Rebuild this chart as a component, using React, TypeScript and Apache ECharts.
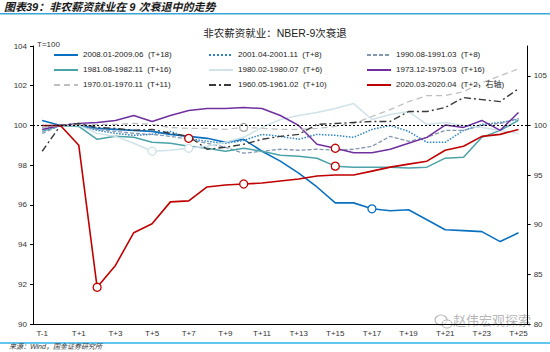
import React, { useEffect, useRef } from "react";
import * as echarts from "echarts";

const categories = [
  "T-1", "T", "T+1", "T+2", "T+3", "T+4", "T+5", "T+6", "T+7", "T+8", "T+9",
  "T+10", "T+11", "T+12", "T+13", "T+14", "T+15", "T+16", "T+17", "T+18",
  "T+19", "T+20", "T+21", "T+22", "T+23", "T+24", "T+25",
];

const s2008 = [100.25, 100, 100, 99.85, 99.8, 99.75, 99.7, 99.55, 99.45, 99.35, 99.15, 99.3, 98.7, 98.2, 97.6, 96.9, 96.1, 96.1, 95.8, 95.7, 95.75, 95.25, 94.75, 94.7, 94.65, 94.15, 94.6];
const s2001 = [99.9, 100, 100, 99.75, 99.6, 99.5, 99.55, 99.7, 99.35, 99.2, 99.1, 99.25, 99.55, 99.45, 99.3, 99.55, 99.5, 99.4, 99.8, 100.0, 99.7, 99.15, 99.15, 99.75, 100.05, 100.15, 100.3];
const s1990 = [99.6, 100, 99.95, 99.8, 99.7, 99.6, 99.55, 99.45, 99.3, 99.1, 98.9, 98.6, 98.7, 98.8, 98.75, 98.8, 98.75, 98.8, 98.95, 99.45, 99.2, 99.4, 99.75, 99.75, 100.0, 100.1, 100.35];
const s1981 = [99.7, 100, 99.95, 99.3, 99.45, 99.4, 99.15, 99.1, 98.95, 98.85, 98.7, 98.85, 98.7, 98.5, 98.45, 98.35, 97.95, 97.9, 97.9, 97.9, 97.85, 97.9, 98.35, 98.4, 99.4, 99.75, 100.25];
const s1980 = [99.8, 100, 100, 99.6, 99.45, 99.1, 98.7, 98.75, 98.85, 98.95, 99.15, 99.4, 99.9, 100.3, 100.5, 100.65, 100.85, 101.1, 100.3, 100.55, 100.7, 100.05, 100.15, 100.0, 99.9, 99.75, 99.6];
const s1973 = [99.8, 100, 100.1, 100.15, 100.25, 100.5, 100.2, 100.5, 100.75, 100.85, 100.85, 100.9, 100.85, 100.5, 100.0, 99.05, 98.85, 98.62, 98.62, 98.8, 99.1, 99.4, 100.02, 99.9, 100.25, 99.75, 100.65];
const s1970 = [99.9, 100, 100.05, 100.05, 100.05, 100.1, 100.05, 99.9, 99.85, 99.85, 99.8, 99.9, 99.85, 99.8, 99.8, 99.85, 99.95, 100.1, 100.45, 100.8, 101.2, 101.5, 101.5, 101.7, 102.15, 102.5, 102.85];
const s1960 = [98.7, 100, 100.1, 99.9, 99.85, 99.75, 99.8, 99.6, 99.45, 98.8, 98.9, 99.05, 99.3, 99.45, 99.55, 100.05, 100.1, 100.15, 100.2, 100.2, 100.7, 100.7, 100.9, 101.4, 101.3, 101.2, 101.85];
const s2020 = [100, 100, 98.0, 83.7, 85.9, 89.2, 90.1, 92.3, 92.4, 93.8, 94.0, 94.1, 94.2, 94.4, 94.6, 94.9, 95.0, 95.0, 95.4, 95.8, 96.1, 96.4, 97.5, 97.9, 98.9, 99.1, 99.6];

const names = [
  "2008.01-2009.06  (T+18)",
  "2001.04-2001.11  (T+8)",
  "1990.08-1991.03  (T+8)",
  "1981.08-1982.11  (T+16)",
  "1980.02-1980.07  (T+6)",
  "1973.12-1975.03  (T+16)",
  "1970.01-1970.11  (T+11)",
  "1960.05-1961.02  (T+10)",
  "2020.03-2020.04  (T+2，右轴)",
];

const FONT = "'Liberation Sans', Arial, 'Noto Sans CJK SC', sans-serif";

export default function App() {
  const ref = useRef<HTMLDivElement>(null);
  useEffect(() => {
    if (!ref.current) return;
    const chart = echarts.init(ref.current, null, { renderer: "svg" });

    const mk = (
      name: string,
      values: number[],
      color: string,
      width: number,
      type: any,
      circles: number[],
      circleColor: string,
      yAxisIndex = 0,
      extra: any = {}
    ) => ({
      name,
      type: "line",
      yAxisIndex,
      symbol: "none",
      showSymbol: true,
      showAllSymbol: true,
      color,
      lineStyle: { color, width, type },
      data: values.map((v, i) =>
        circles.includes(i)
          ? {
              value: v,
              symbol: "circle",
              symbolSize: 8,
              itemStyle: { color: "#fff", borderColor: circleColor, borderWidth: 1.3 },
            }
          : v
      ),
      ...extra,
    });

    const series: any[] = [
      mk(names[0], s2008, "#0a70c0", 1.6, "solid", [18], "#0a70c0", 0, {
        markLine: {
          silent: true,
          symbol: ["none", "none"],
          label: { show: false },
          lineStyle: { color: "#000", type: [2, 2], width: 1 },
          data: [{ yAxis: 100 }],
        },
      }),
      mk(names[1], s2001, "#2e84c4", 1.5, "dotted", [8], "#c00000"),
      mk(names[2], s1990, "#8497b0", 1.3, [4, 2], [], "#8497b0"),
      mk(names[3], s1981, "#4ba3a8", 1.5, "solid", [16], "#c00000"),
      mk(names[4], s1980, "#cfe3e8", 1.5, "solid", [6, 8], "#cfe3e8"),
      mk(names[5], s1973, "#7030a0", 1.5, "solid", [16], "#c00000"),
      mk(names[6], s1970, "#bfbfbf", 1.3, [6, 4], [11], "#aaaaaa"),
      mk(names[7], s1960, "#3a3a3a", 1.4, [7, 3, 2, 3], [], "#3a3a3a"),
      mk(names[8], s2020, "#c00000", 1.6, "solid", [3, 11], "#c00000", 1),
    ];

    const legendBase = {
      orient: "vertical",
      top: 46,
      itemWidth: 24,
      itemHeight: 8,
      itemGap: 7,
      itemStyle: { opacity: 0, borderWidth: 0 },
      textStyle: { fontSize: 8, color: "#222", fontFamily: FONT },
      selectedMode: false,
    };

    chart.setOption({
      animation: false,
      backgroundColor: "#fff",
      textStyle: { fontFamily: FONT },
      title: {
        text: "非农薪资就业：NBER-9次衰退",
        left: "center",
        top: 23,
        textStyle: { fontSize: 10.5, fontWeight: "normal", color: "#222", fontFamily: FONT },
      },
      legend: [
        { ...legendBase, left: 48, data: [names[0], names[3], names[6]] },
        { ...legendBase, left: 203, data: [names[1], names[4], names[7]] },
        { ...legendBase, left: 361, data: [names[2], names[5], names[8]] },
      ],
      grid: { left: 33, right: 22, top: 46, bottom: 28 },
      xAxis: {
        type: "category",
        data: categories,
        boundaryGap: true,
        axisLine: { onZero: false, lineStyle: { color: "#000", width: 1 } },
        axisTick: { length: 4, lineStyle: { color: "#000" } },
        axisLabel: { interval: 1, fontSize: 8, color: "#333", margin: 5, fontFamily: FONT },
        splitLine: { show: false },
      },
      yAxis: [
        {
          type: "value",
          min: 90,
          max: 104,
          interval: 2,
          axisLine: { show: true, lineStyle: { color: "#000", width: 1 } },
          axisTick: { show: true, length: 3, lineStyle: { color: "#000" } },
          axisLabel: { fontSize: 8, color: "#333", margin: 6, fontFamily: FONT },
          splitLine: { show: false },
        },
        {
          type: "value",
          min: 80,
          max: 108,
          interval: 5,
          position: "right",
          axisLine: { show: true, lineStyle: { color: "#000", width: 1 } },
          axisTick: { show: true, length: 3, lineStyle: { color: "#000" } },
          axisLabel: { fontSize: 8, color: "#333", margin: 6, showMaxLabel: false, fontFamily: FONT },
          splitLine: { show: false },
        },
      ],
      graphic: [
        {
          type: "text",
          left: 4,
          top: 1,
          style: {
            text: "图表39：非农薪资就业在 9 次衰退中的走势",
            fontSize: 11,
            fontWeight: "bold",
            fontStyle: "italic",
            fill: "#1a1a1a",
            fontFamily: FONT,
          },
        },
        {
          type: "rect",
          shape: { x: 0, y: 13, width: 550, height: 1.6 },
          style: { fill: "#3ba4dc" },
        },
        {
          type: "text",
          left: 37,
          top: 40,
          style: { text: "T=100", fontSize: 8, fill: "#333", fontFamily: FONT },
        },
        {
          type: "rect",
          shape: { x: 0, y: 342, width: 550, height: 2 },
          style: { fill: "#62c5f0" },
        },
        {
          type: "text",
          left: 9,
          top: 343,
          style: {
            text: "来源：Wind，国金证券研究所",
            fontSize: 7,
            fontStyle: "italic",
            fill: "#333",
            fontFamily: FONT,
          },
        },
        {
          type: "ellipse",
          shape: { cx: 441, cy: 320, rx: 6, ry: 5 },
          style: { fill: "none", stroke: "#b8b8b8", lineWidth: 1.2 },
        },
        {
          type: "ellipse",
          shape: { cx: 447, cy: 324, rx: 5, ry: 4 },
          style: { fill: "rgba(255,255,255,0.6)", stroke: "#b8b8b8", lineWidth: 1.2 },
        },
        {
          type: "text",
          left: 453,
          top: 313,
          style: {
            text: "赵伟宏观探索",
            fontSize: 13,
            fill: "rgba(170,170,170,0.85)",
            fontFamily: "'Noto Sans CJK SC', sans-serif",
          },
        },
      ],
      series,
    });
    return () => chart.dispose();
  }, []);
  return <div ref={ref} style={{ width: 550, height: 352, position: "absolute", left: 0, top: 0 }} />;
}
